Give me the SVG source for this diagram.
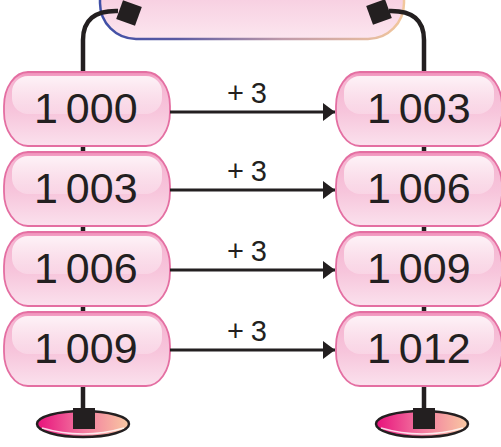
<svg xmlns="http://www.w3.org/2000/svg" width="501" height="447" viewBox="0 0 501 447">
<defs>
<linearGradient id="nodeFill" x1="0" y1="0" x2="0" y2="1">
<stop offset="0" stop-color="#f08cb8"/>
<stop offset="0.1" stop-color="#f5b3d0"/>
<stop offset="0.55" stop-color="#f7c6dc"/>
<stop offset="1" stop-color="#fbe1ed"/>
</linearGradient>
<linearGradient id="gloss" x1="0" y1="0" x2="0" y2="1">
<stop offset="0" stop-color="#ffffff" stop-opacity="0.85"/>
<stop offset="1" stop-color="#ffffff" stop-opacity="0.25"/>
</linearGradient>
<linearGradient id="frameFill" x1="0" y1="0" x2="0" y2="1">
<stop offset="0" stop-color="#f3b8d3"/>
<stop offset="1" stop-color="#fce6ef"/>
</linearGradient>
<linearGradient id="frameStroke" x1="100" y1="0" x2="405" y2="0" gradientUnits="userSpaceOnUse">
<stop offset="0" stop-color="#3f4fa6"/>
<stop offset="0.25" stop-color="#5a5aa2"/>
<stop offset="0.6" stop-color="#c09aaa"/>
<stop offset="1" stop-color="#f2c79c"/>
</linearGradient>
<linearGradient id="baseFill" x1="0" y1="0" x2="1" y2="0">
<stop offset="0" stop-color="#e8107c"/>
<stop offset="0.5" stop-color="#f27aa0"/>
<stop offset="1" stop-color="#f9c9a2"/>
</linearGradient>
<marker id="arrow" viewBox="0 0 12 18" refX="12" refY="9" markerWidth="12" markerHeight="18" markerUnits="userSpaceOnUse" orient="auto">
<path d="M0,0 L12,9 L0,18 Z" fill="#231f20"/>
</marker>
<g id="pill">
<rect x="0" y="0" width="166" height="74" rx="24" ry="34" fill="url(#nodeFill)" stroke="#e46fa2" stroke-width="1.8"/>
<rect x="8" y="4" width="150" height="38" rx="16" ry="16" fill="url(#gloss)"/>
</g>
</defs>
<style>
.rope{fill:none;stroke:#231f20;stroke-width:4.5}
.sq{fill:#231f20}
.num{font-family:"Liberation Sans",Arial,sans-serif;font-size:43px;fill:#231f20;word-spacing:-4px}
.lbl{font-family:"Liberation Sans",Arial,sans-serif;font-size:29px;fill:#231f20}
.arr{stroke:#231f20;stroke-width:3;fill:none}
</style>
<rect width="501" height="447" fill="#ffffff"/>
<g id="frame">
<rect x="100" y="-45" width="304" height="84" rx="36" ry="36" fill="url(#frameFill)" stroke="url(#frameStroke)" stroke-width="2.5"/>
</g>
<g id="ropes">
<path class="rope" d="M83,410 V40 Q83,10 118,11"/>
<path class="rope" d="M424,410 V40 Q424,10 389,11"/>
<rect class="sq" x="119" y="3" width="20" height="20" transform="rotate(20 129 13)"/>
<rect class="sq" x="369" y="2" width="20" height="20" transform="rotate(-20 379 12)"/>
</g>
<g id="base-left">
<ellipse cx="83" cy="424" rx="46" ry="13" fill="url(#baseFill)" stroke="#231f20" stroke-width="2.5"/>
<path d="M42,428 Q83,440 124,428" fill="none" stroke="#ffffff" stroke-width="1.5" opacity="0.8"/>
<rect class="sq" x="73" y="408" width="22" height="21"/>
</g>
<g id="base-right">
<ellipse cx="422" cy="424" rx="46" ry="13" fill="url(#baseFill)" stroke="#231f20" stroke-width="2.5"/>
<path d="M381,428 Q422,440 463,428" fill="none" stroke="#ffffff" stroke-width="1.5" opacity="0.8"/>
<rect class="sq" x="413" y="408" width="22" height="21"/>
</g>
<g id="n-1000"><use href="#pill" x="4" y="72"/><text class="num" x="34" y="123">1 000</text></g>
<g id="n-1003a"><use href="#pill" x="4" y="152"/><text class="num" x="34" y="203">1 003</text></g>
<g id="n-1006a"><use href="#pill" x="4" y="232"/><text class="num" x="34" y="283">1 006</text></g>
<g id="n-1009a"><use href="#pill" x="4" y="312"/><text class="num" x="34" y="363">1 009</text></g>
<g id="n-1003b"><use href="#pill" x="336" y="72"/><text class="num" x="367" y="123">1 003</text></g>
<g id="n-1006b"><use href="#pill" x="336" y="152"/><text class="num" x="367" y="203">1 006</text></g>
<g id="n-1009b"><use href="#pill" x="336" y="232"/><text class="num" x="367" y="283">1 009</text></g>
<g id="n-1012"><use href="#pill" x="336" y="312"/><text class="num" x="367" y="363">1 012</text></g>
<g id="connectors">
<line class="arr" x1="170" y1="112" x2="335" y2="112" marker-end="url(#arrow)"/>
<line class="arr" x1="170" y1="190" x2="335" y2="190" marker-end="url(#arrow)"/>
<line class="arr" x1="170" y1="270" x2="335" y2="270" marker-end="url(#arrow)"/>
<line class="arr" x1="170" y1="350" x2="335" y2="350" marker-end="url(#arrow)"/>
<text class="lbl" x="227" y="103" textLength="40" lengthAdjust="spacing">+3</text>
<text class="lbl" x="227" y="181" textLength="40" lengthAdjust="spacing">+3</text>
<text class="lbl" x="227" y="261" textLength="40" lengthAdjust="spacing">+3</text>
<text class="lbl" x="227" y="341" textLength="40" lengthAdjust="spacing">+3</text>
</g>
</svg>
